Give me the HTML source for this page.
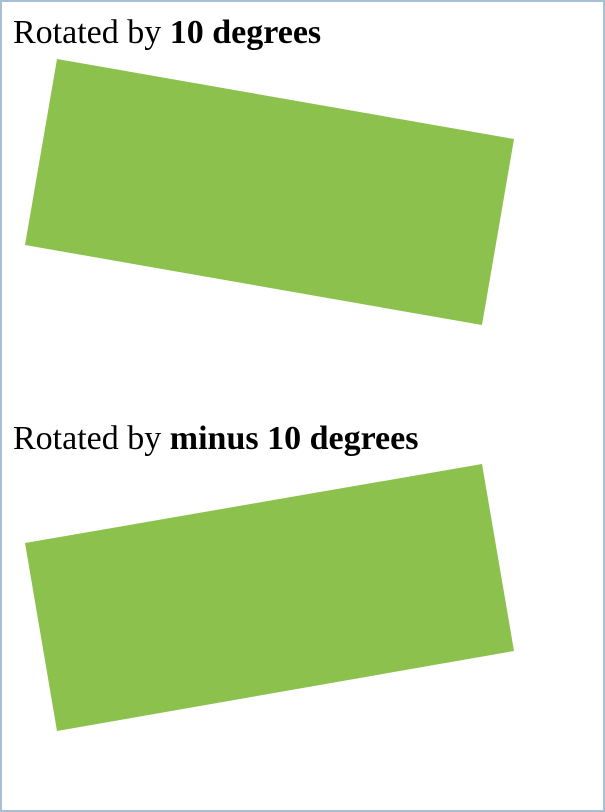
<!DOCTYPE html>
<html><head><meta charset="utf-8"><style>
html,body{margin:0;padding:0;background:#fff;}
#frame{position:absolute;left:0;top:0;width:601px;height:808px;border:2px solid #a9bfd6;background:#fff;overflow:hidden;}
.t{position:absolute;left:11px;font-family:"Liberation Serif",serif;font-size:34px;color:#000;white-space:nowrap;line-height:36px;}
svg{position:absolute;left:0;top:0;}
</style></head><body>
<div id="frame">
<div class="t" style="top:13px">Rotated by <b>10 degrees</b></div>
<div class="t" style="top:419px">Rotated by <b>minus 10 degrees</b></div>
</div>
<svg width="605" height="812">
<polygon points="57,59 514,139 482,325 25,245" fill="#8bc14c"/>
<polygon points="25,543 482,464 514,651 57,731" fill="#8bc14c"/>
</svg>
</body></html>
